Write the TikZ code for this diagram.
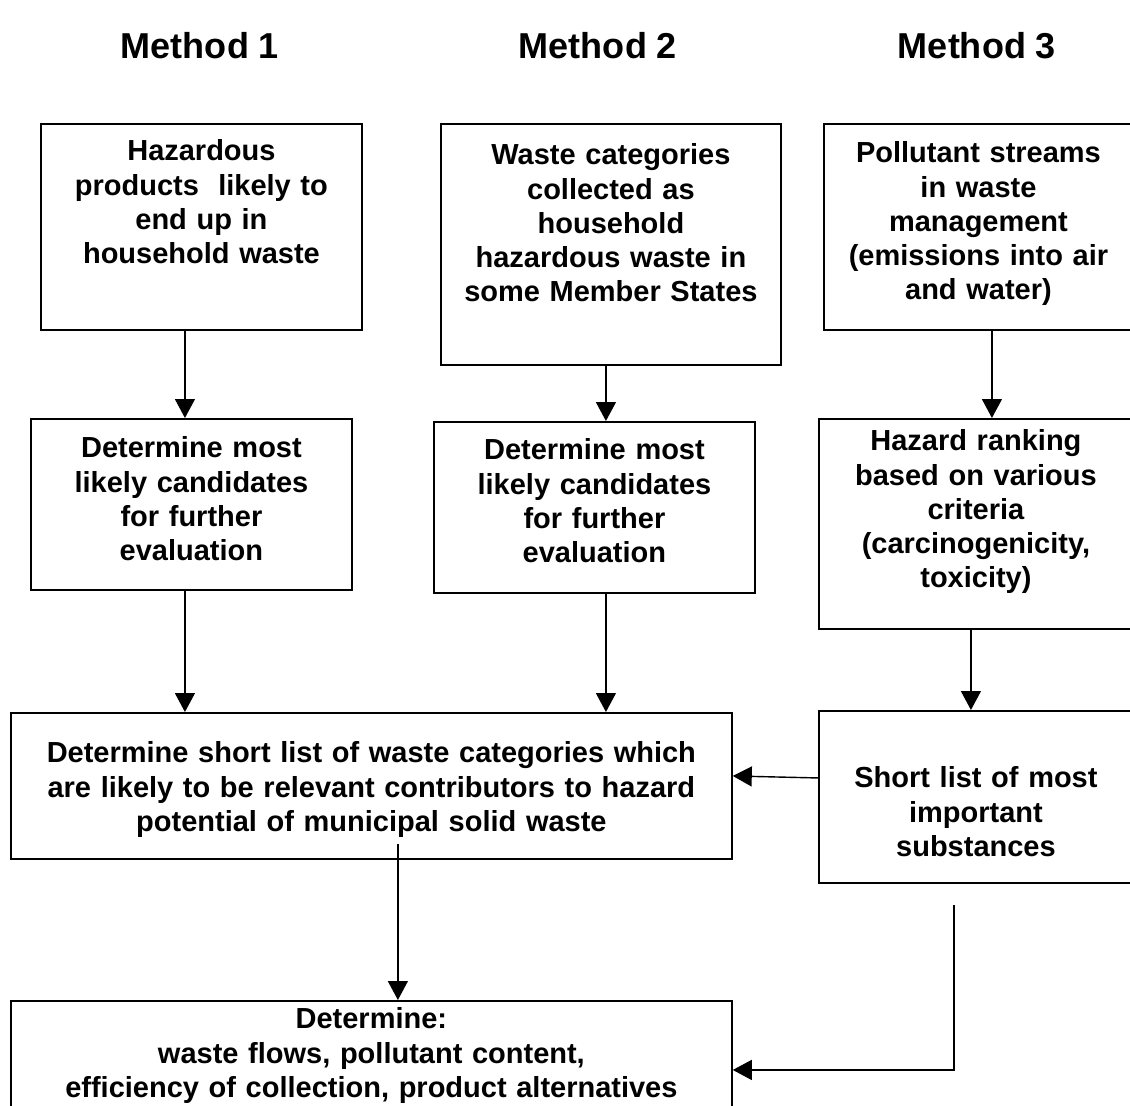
\documentclass[tikz,border=0pt]{standalone}
\usepackage{fontspec}
\setmainfont{Liberation Sans}
\usetikzlibrary{arrows.meta, positioning}

\begin{document}
\begin{tikzpicture}[
    x=0.02cm, y=-0.02cm,
    title/.style={font=\fontsize{20.5}{24}\selectfont\bfseries},
    stepbox/.style={draw, line width=1.1pt, anchor=north west, inner xsep=0.1cm, inner ysep=0pt, align=center, font=\fontsize{16.5}{19.4}\selectfont\bfseries},
    arr/.style={-{Triangle[length=0.38cm, width=0.4cm]}, line width=0.8pt}
]
    \useasboundingbox (0,0) rectangle (1130,1106);
    \clip (0,0) rectangle (1130,1106);
    % method titles
    \node[title] (meth1) at (200,46) {Method 1};
    \node[title] (meth2) at (598,46) {Method 2};
    \node[title] (meth3) at (977,46) {Method 3};
    % first row
    \node[stepbox, text width=6.22cm, text height=0.74cm, text depth=3.38cm] (haz) at (40,123) {Hazardous\\products~ likely to\\end up in\\household waste};
    \node[stepbox, text width=6.6cm, text height=0.82cm, text depth=4.0cm] (cat) at (440,123) {Waste categories\\collected as\\household\\hazardous waste in\\some Member States};
    \node[stepbox, text width=5.98cm, text height=0.78cm, text depth=3.34cm] (pol) at (823,123) {Pollutant streams\\in waste\\management\\(emissions into air\\and water)};
    % second row
    \node[stepbox, text width=6.22cm, text height=0.78cm, text depth=2.64cm] (cand1) at (30,418) {Determine most\\likely candidates\\for further\\evaluation};
    \node[stepbox, text width=6.22cm, text height=0.76cm, text depth=2.66cm] (cand2) at (433,421) {Determine most\\likely candidates\\for further\\evaluation};
    \node[stepbox, text width=6.08cm, text height=0.64cm, text depth=3.56cm] (rank) at (818,418) {Hazard ranking\\based on various\\criteria\\(carcinogenicity,\\toxicity)};
    % short lists and result
    \node[stepbox, text width=14.22cm, text height=1.0cm, text depth=1.92cm] (short) at (10,712) {Determine short list of waste categories which\\are likely to be relevant contributors to hazard\\potential of municipal solid waste};
    \node[stepbox, text width=6.08cm, text height=1.54cm, text depth=1.9cm] (subst) at (818,710) {Short list of most\\important\\substances};
    \node[stepbox, text width=14.22cm, text height=0.56cm, text depth=1.84cm] (flows) at (10,1000) {Determine:\\waste flows, pollutant content,\\efficiency of collection, product alternatives};
    % arrows
    \draw[arr] ([xshift=-0.33cm]haz.south) -- ([xshift=-0.33cm]haz.south |- cand1.north);
    \draw[arr] ([xshift=-0.1cm]cat.south) -- ([xshift=-0.1cm]cat.south |- cand2.north);
    \draw[arr] ([xshift=0.27cm]pol.south) -- ([xshift=0.27cm]pol.south |- rank.north);
    \draw[arr] ([xshift=-0.13cm]cand1.south) -- ([xshift=-0.13cm]cand1.south |- short.north);
    \draw[arr] ([xshift=0.23cm]cand2.south) -- ([xshift=0.23cm]cand2.south |- short.north);
    \draw[arr] ([xshift=-0.1cm]rank.south) -- ([xshift=-0.1cm]rank.south |- subst.north);
    \draw[arr] ([yshift=0.38cm]subst.west) -- ([yshift=0.2cm]short.east);
    \draw[arr] ([xshift=0.53cm, yshift=0.32cm]short.south) -- ([xshift=0.53cm]short.south |- flows.north);
    \draw[arr] ([xshift=-0.44cm, yshift=-0.42cm]subst.south) |- ([yshift=-0.18cm]flows.east);
\end{tikzpicture}
\end{document}
